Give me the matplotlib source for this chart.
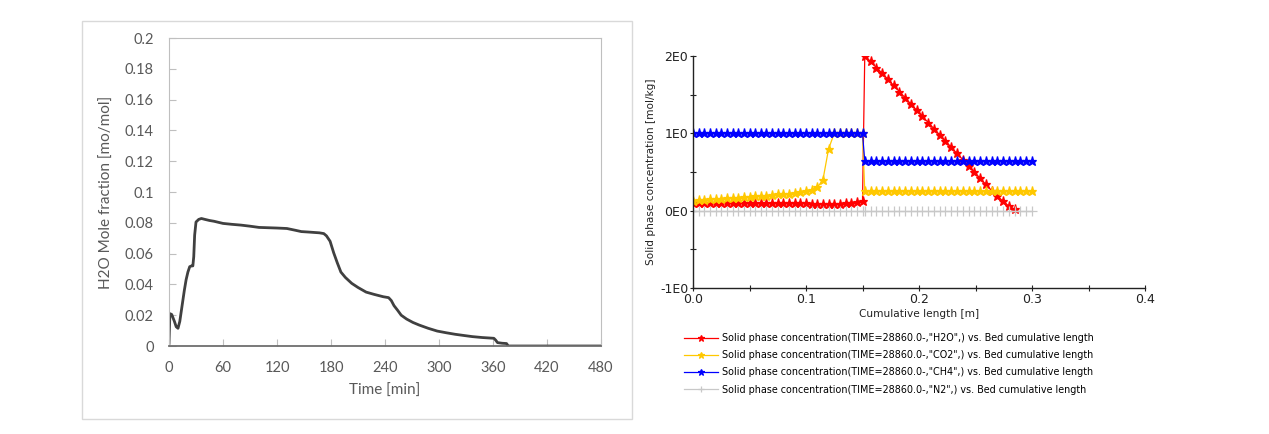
import numpy as np
import matplotlib
matplotlib.use("Agg")
import matplotlib.pyplot as plt
from matplotlib.patches import Rectangle
from matplotlib.ticker import MultipleLocator, FixedLocator

# ---- left chart: H2O mole fraction at the outlet vs time ----
time_min = [0, 1, 3, 6, 8, 10, 12, 15, 17, 19, 21, 23, 25, 26.5, 27.5, 28.5, 30, 33, 36,
            40, 45, 50, 60, 70, 80, 90, 100, 110, 120, 131, 140, 147, 155, 162, 167,
            172, 175, 179, 183, 187, 191, 196, 203, 210, 219, 228, 238, 244, 247, 250,
            254, 258, 264, 271, 278, 288, 298, 308, 318, 328, 337, 348, 356, 361, 363,
            365, 370, 375, 377, 380, 420, 480]
h2o_frac = [0.0017, 0.021, 0.0205, 0.016, 0.0125, 0.0115, 0.016, 0.028, 0.036, 0.043,
            0.048, 0.0515, 0.052, 0.052, 0.058, 0.072, 0.0805, 0.0822, 0.0828,
            0.0822, 0.0815, 0.081, 0.0796, 0.079, 0.0785, 0.0778, 0.077, 0.0768,
            0.0766, 0.0763, 0.0752, 0.0743, 0.074, 0.0737, 0.0735, 0.073, 0.0715,
            0.068, 0.0605, 0.054, 0.048, 0.0445, 0.0407, 0.038, 0.035, 0.0335, 0.032,
            0.0314, 0.0295, 0.0262, 0.0232, 0.020, 0.0175, 0.0153, 0.0136, 0.0115,
            0.0097, 0.0086, 0.0076, 0.0068, 0.0061, 0.0055, 0.0052, 0.005, 0.0038,
            0.0022, 0.0018, 0.0016, 0.0, 0.0, 0.0, 0.0]
time_ticks = [0, 60, 120, 180, 240, 300, 360, 420, 480]
frac_ticks = [0, 0.02, 0.04, 0.06, 0.08, 0.1, 0.12, 0.14, 0.16, 0.18, 0.2]
frac_labels = ["0", "0.02", "0.04", "0.06", "0.08", "0.1", "0.12", "0.14", "0.16", "0.18", "0.2"]

# ---- right chart: solid phase concentration along the bed ----
# bed nodes (m): first zone and second zone
bed_x1 = np.linspace(0.0, 0.150, 31)
bed_x2 = np.linspace(0.152, 0.300, 30)
h2o_1 = [0.10, 0.10, 0.10, 0.10, 0.10, 0.10, 0.10, 0.10, 0.10, 0.10, 0.10,
         0.10, 0.10, 0.10, 0.10, 0.10, 0.10, 0.10, 0.10, 0.095, 0.095,
         0.09, 0.09, 0.09, 0.09, 0.09, 0.09, 0.095, 0.10, 0.11, 0.12]
h2o_2 = [2.00, 1.93, 1.85, 1.78, 1.70, 1.62, 1.54, 1.46, 1.38, 1.30,
         1.22, 1.14, 1.06, 0.98, 0.90, 0.82, 0.74, 0.66, 0.58, 0.50,
         0.42, 0.34, 0.26, 0.19, 0.12, 0.06, 0.02, np.nan, np.nan, np.nan]
co2_1 = [0.13, 0.135, 0.14, 0.145, 0.15, 0.155, 0.16, 0.165, 0.17, 0.175, 0.18,
         0.185, 0.19, 0.195, 0.20, 0.21, 0.215, 0.22, 0.23, 0.24, 0.255,
         0.27, 0.30, 0.40, 0.80, 1.00, 1.00, 1.00, 1.00, 1.00, 1.00]
co2_2 = [0.25] * 30
ch4_1 = [1.00] * 31
ch4_2 = [0.64] * 30
n2_1 = [0.0] * 31
n2_2 = [0.0] * 30

series_names = ['"H2O"', '"CO2"', '"CH4"', '"N2"']
series_colors = ["#ff0000", "#ffc800", "#0000ff", "#c8c8c8"]
series_markers = ["*", "*", "*", "+"]

fig = plt.figure(figsize=(12.69, 4.34), dpi=100)
fig.patch.set_facecolor("white")

# light frame around the left (Excel) chart
fig.patches.append(Rectangle((82 / 1269, 1 - 419 / 434), 550 / 1269, 398 / 434,
                             transform=fig.transFigure, fill=False,
                             edgecolor="#d9d9d9", linewidth=1.0))

gray = "#595959"
ax1 = fig.add_axes([169 / 1269, 1 - 346 / 434, 432 / 1269, 308 / 434])
ax1.plot(time_min, h2o_frac, color="#404040", linewidth=2.0, solid_joinstyle="round")
ax1.set_xlim(0, 480)
ax1.set_ylim(0, 0.2)
ax1.set_xticks(time_ticks)
ax1.set_yticks(frac_ticks)
ax1.set_yticklabels(frac_labels)
for s in ["top", "right", "left"]:
    ax1.spines[s].set_color("#bfbfbf")
    ax1.spines[s].set_linewidth(0.8)
ax1.spines["bottom"].set_color("#6e6e6e")
ax1.spines["bottom"].set_linewidth(1.3)
ax1.tick_params(axis="both", direction="in", length=5, color="#bfbfbf",
                labelcolor=gray, labelsize=10.5, pad=11)
for lab in ax1.get_xticklabels() + ax1.get_yticklabels():
    lab.set_family("Lato")
ax1.set_xlabel("Time [min]", color=gray, fontsize=11, family="Lato", labelpad=6)
ax1.set_ylabel("H2O Mole fraction [mo/mol]", color=gray, fontsize=11, family="Lato",
               labelpad=8)

# right chart
ax2 = fig.add_axes([693 / 1269, 1 - 288 / 434, 452 / 1269, 232 / 434])
first1 = [h2o_1, co2_1, ch4_1, n2_1]
second = [h2o_2, co2_2, ch4_2, n2_2]
for y1, y2, name, c, m in zip(first1, second, series_names, series_colors, series_markers):
    xs = np.concatenate([bed_x1, bed_x2])
    ys = np.concatenate([y1, y2])
    ax2.plot(xs, ys, color=c, linewidth=0.9, marker=m, markersize=6.5,
             markeredgewidth=0.9,
             label="Solid phase concentration(TIME=28860.0-," + name + ",) vs. Bed cumulative length")
ax2.set_xlim(0, 0.4)
ax2.set_ylim(-1, 2)
ax2.xaxis.set_major_locator(FixedLocator([0, 0.1, 0.2, 0.3, 0.4]))
ax2.xaxis.set_minor_locator(MultipleLocator(0.05))
ax2.yaxis.set_major_locator(FixedLocator([-1, 0, 1, 2]))
ax2.yaxis.set_minor_locator(MultipleLocator(0.5))
ax2.set_xticklabels(["0.0", "0.1", "0.2", "0.3", "0.4"])
ax2.set_yticklabels(["-1E0", "0E0", "1E0", "2E0"])
ax2.spines["top"].set_visible(False)
ax2.spines["right"].set_visible(False)
for s in ["left", "bottom"]:
    ax2.spines[s].set_color("#222222")
    ax2.spines[s].set_linewidth(1.0)
ax2.tick_params(axis="both", which="both", direction="inout", length=5, width=0.8,
                color="#222222", labelcolor="#222222", labelsize=9, pad=1)
ax2.set_xlabel("Cumulative length [m]", fontsize=7.6, color="#222222", labelpad=2)
ax2.set_ylabel("Solid phase concentration [mol/kg]", fontsize=7.6, color="#222222",
               labelpad=3)

fig.legend(*ax2.get_legend_handles_labels(), loc="upper left",
           bbox_to_anchor=(684 / 1269, 1 - 333 / 434), frameon=False,
           fontsize=6.9, handlelength=3.55, handletextpad=0.4, labelspacing=0.75,
           borderpad=0, borderaxespad=0, markerscale=0.75)

fig.savefig("out.png", dpi=100, facecolor="white")
